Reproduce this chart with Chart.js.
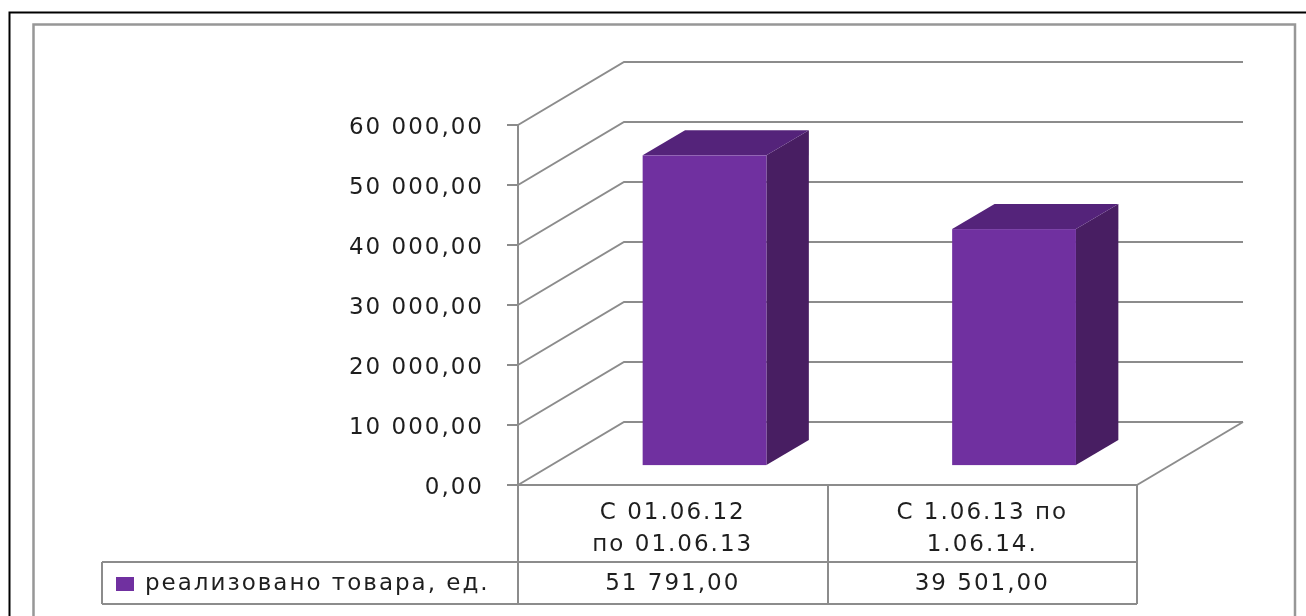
<!DOCTYPE html>
<html><head><meta charset="utf-8">
<script src="https://cdn.jsdelivr.net/npm/chart.js@4/dist/chart.umd.min.js"></script>
<style>html,body{margin:0;padding:0;background:#fff;overflow:hidden}canvas{display:block}</style>
</head><body>
<canvas id="c" width="1306" height="616" style="width:1306px;height:616px"></canvas>
<script>
// ---- data ----
const categories = [['С 01.06.12', 'по 01.06.13'], ['С 1.06.13 по', '1.06.14.']];
const seriesName = 'реализовано товара, ед.';
const soldUnits = [51791, 39501];
const soldUnitsLabels = ['51 791,00', '39 501,00'];
const yTickValues = [0, 10000, 20000, 30000, 40000, 50000, 60000];
const yTickLabels = ['0,00', '10 000,00', '20 000,00', '30 000,00', '40 000,00', '50 000,00', '60 000,00'];

// ---- style ----
const FONT = 'DejaVu Sans';
const FSIZE = 23;
const LETTER = '2px';
const TEXT = '#1e1e1e';
const LINE = '#8c8c8c';
const DEPTH = {dx: 106, dy: -63};
const BAR_DEPTH = {front: 0.3, back: 0.7};
const FRONT = '#7030A0', SIDE = '#481E62', TOP = '#54237A';

const bar3d = {
  id: 'bar3d',
  beforeUpdate(chart) { chart.ctx.letterSpacing = LETTER; },
  beforeLayout(chart) { chart.ctx.letterSpacing = LETTER; },
  beforeDraw(chart) {
    const ctx = chart.ctx;
    ctx.letterSpacing = LETTER;
    ctx.save();
    ctx.fillStyle = '#fff';
    ctx.fillRect(0, 0, chart.width, chart.height);
    ctx.strokeStyle = '#000'; ctx.lineWidth = 2;
    ctx.beginPath(); ctx.moveTo(9.5, 620); ctx.lineTo(9.5, 12.5); ctx.lineTo(1310, 12.5); ctx.stroke();
    ctx.strokeStyle = '#979797'; ctx.lineWidth = 2.5;
    ctx.beginPath(); ctx.moveTo(33.5, 620); ctx.lineTo(33.5, 24.5); ctx.lineTo(1295, 24.5); ctx.lineTo(1295, 620); ctx.stroke();
    ctx.restore();
  },
  beforeDatasetsDraw(chart) {
    const {ctx, chartArea: a, scales: {y}} = chart;
    ctx.save();
    ctx.strokeStyle = LINE; ctx.lineWidth = 2;
    y.ticks.forEach(t => {
      const py = y.getPixelForValue(t.value);
      ctx.beginPath();
      ctx.moveTo(a.left, py);
      ctx.lineTo(a.left + DEPTH.dx, py + DEPTH.dy);
      ctx.lineTo(a.right + DEPTH.dx, py + DEPTH.dy);
      ctx.stroke();
    });
    ctx.beginPath();
    ctx.moveTo(a.right, a.bottom);
    ctx.lineTo(a.right + DEPTH.dx, a.bottom + DEPTH.dy);
    ctx.stroke();
    ctx.restore();
  },
  beforeDatasetDraw() { return false; },
  afterDatasetsDraw(chart) {
    const ctx = chart.ctx;
    const meta = chart.getDatasetMeta(0);
    const fx = DEPTH.dx * BAR_DEPTH.front, fy = DEPTH.dy * BAR_DEPTH.front;
    const ddx = DEPTH.dx * (BAR_DEPTH.back - BAR_DEPTH.front), ddy = DEPTH.dy * (BAR_DEPTH.back - BAR_DEPTH.front);
    ctx.save();
    meta.data.forEach(el => {
      const {x, y, base, width} = el.getProps(['x', 'y', 'base', 'width'], true);
      const l = x - width / 2 + fx, r = x + width / 2 + fx, t = y + fy, b = base + fy;
      ctx.fillStyle = SIDE;
      ctx.beginPath(); ctx.moveTo(r, t); ctx.lineTo(r + ddx, t + ddy); ctx.lineTo(r + ddx, b + ddy); ctx.lineTo(r, b); ctx.closePath(); ctx.fill();
      ctx.fillStyle = TOP;
      ctx.beginPath(); ctx.moveTo(l, t); ctx.lineTo(l + ddx, t + ddy); ctx.lineTo(r + ddx, t + ddy); ctx.lineTo(r, t); ctx.closePath(); ctx.fill();
      ctx.fillStyle = FRONT;
      ctx.fillRect(l, t, r - l, b - t);
    });
    ctx.restore();
  },
  afterDraw(chart) {
    const {ctx, chartArea: a, scales: {x}} = chart;
    const rowTop = a.bottom + 77, rowBot = a.bottom + 119, cellLeft = 102;
    ctx.save();
    ctx.letterSpacing = LETTER;
    ctx.strokeStyle = LINE; ctx.lineWidth = 2;
    ctx.beginPath();
    ctx.moveTo(cellLeft, rowTop); ctx.lineTo(a.right, rowTop);
    ctx.moveTo(cellLeft, rowBot); ctx.lineTo(a.right, rowBot);
    ctx.moveTo(cellLeft, rowTop); ctx.lineTo(cellLeft, rowBot);
    ctx.stroke();
    const mid = (rowTop + rowBot) / 2 + 1;
    ctx.fillStyle = chart.data.datasets[0].backgroundColor;
    ctx.fillRect(116, mid - 7, 18, 14);
    ctx.fillStyle = TEXT;
    ctx.font = FSIZE + 'px "' + FONT + '"';
    ctx.textBaseline = 'middle';
    ctx.textAlign = 'left';
    ctx.fillText(chart.data.datasets[0].label, 145, mid);
    ctx.textAlign = 'center';
    soldUnitsLabels.forEach((s, i) => ctx.fillText(s, x.getPixelForValue(i), mid));
    ctx.restore();
  }
};

new Chart(document.getElementById('c'), {
  type: 'bar',
  data: {
    labels: categories,
    datasets: [{label: seriesName, data: soldUnits, backgroundColor: FRONT, barPercentage: 0.4, categoryPercentage: 1}]
  },
  options: {
    responsive: false,
    animation: false,
    devicePixelRatio: 1,
    layout: {padding: {left: 0, top: 125, right: 169, bottom: 0}},
    plugins: {legend: {display: false}, tooltip: {enabled: false}},
    scales: {
      x: {
        offset: true,
        grid: {display: true, drawOnChartArea: false, drawTicks: true, tickLength: 119, color: LINE, lineWidth: 2, offset: true},
        border: {display: true, color: LINE, width: 2},
        ticks: {font: {family: FONT, size: FSIZE, lineHeight: 1.39}, color: TEXT, padding: -107, maxRotation: 0, minRotation: 0, autoSkip: false},
        afterFit(s) { s.height = 131; }
      },
      y: {
        min: 0, max: 60000,
        afterBuildTicks(s) { s.ticks = yTickValues.map(v => ({value: v})); },
        grid: {drawOnChartArea: false, drawTicks: true, tickLength: 11, color: LINE, lineWidth: 2},
        border: {display: true, color: LINE, width: 2},
        ticks: {font: {family: FONT, size: FSIZE}, color: TEXT, padding: 23, labelOffset: 3,
                callback: (v) => yTickLabels[yTickValues.indexOf(v)]},
        afterFit(s) { s.width = 518; }
      }
    }
  },
  plugins: [bar3d]
});
</script>
</body></html>
